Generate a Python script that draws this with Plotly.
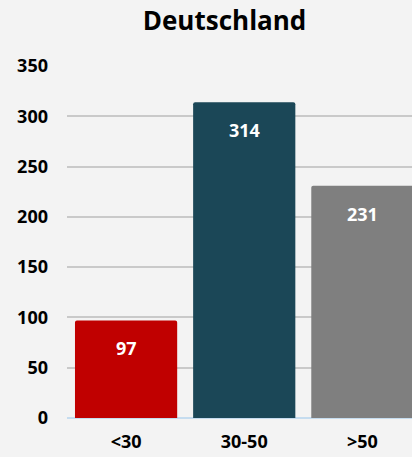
import plotly.graph_objects as go

categories = ["<30", "30-50", ">50"]
values = [97, 314, 231]
colors = ["#C00000", "#1B4757", "#7F7F7F"]
y_ticks = [0, 50, 100, 150, 200, 250, 300, 350]

FONT = "Open Sans"
BG = "#F3F3F3"

fig = go.Figure()
fig.add_trace(go.Bar(
    x=categories, y=values,
    marker=dict(color=colors, line=dict(width=0), cornerradius=2),
    hoverinfo="skip",
))

for c, v in zip(categories, values):
    fig.add_annotation(x=c, y=v, text=f"<b>{v}</b>", showarrow=False,
                       yshift=-28, font=dict(family=FONT, size=18, color="white"))

fig.update_layout(
    width=412, height=457,
    paper_bgcolor=BG, plot_bgcolor=BG,
    margin=dict(l=67, r=0, t=66, b=39),
    title=dict(text="<b>Deutschland</b>", x=0.545, xanchor="center", y=0.955, yanchor="middle",
               font=dict(family=FONT, size=26, color="#000000")),
    bargap=0.135,
    showlegend=False,
    font=dict(family=FONT, color="#000000"),
)
fig.update_xaxes(
    type="category", range=[-0.5, 2.42], showgrid=False,
    tickfont=dict(family=FONT, size=18, weight="bold"),
    ticklabelstandoff=11, showline=False,
)
fig.update_yaxes(
    range=[0, 350], tickvals=y_ticks, showgrid=True, gridcolor="#C9C9C9", gridwidth=1.5,
    tickfont=dict(family=FONT, size=18, weight="bold"),
    ticklabelstandoff=18, zeroline=True, zerolinecolor="#C5DCEF", zerolinewidth=2,
    showline=False,
)
fig.write_html("out.html", config={"displayModeBar": False},
               post_script="document.body.style.margin='0';document.body.style.overflow='hidden';")
